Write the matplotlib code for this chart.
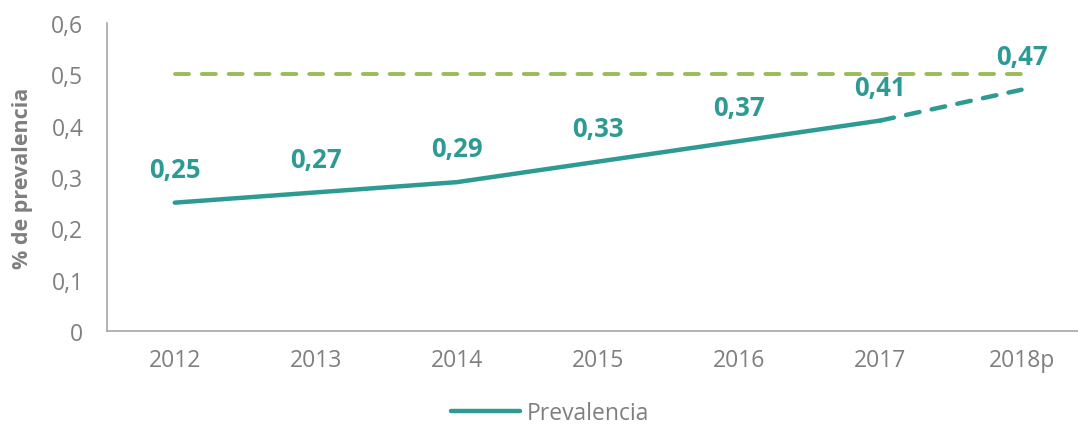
import matplotlib
matplotlib.use('Agg')
import matplotlib.pyplot as plt
from matplotlib.lines import Line2D

plt.rcParams['font.family'] = ['Open Sans', 'DejaVu Sans']

# ── data ──────────────────────────────────────────────────────────────────────
YEARS      = ['2012', '2013', '2014', '2015', '2016', '2017', '2018p']
PREVALENCE = [0.25, 0.27, 0.29, 0.33, 0.37, 0.41, 0.47]
TARGET     = [0.5] * len(YEARS)
Y_TICKS    = [0, 0.1, 0.2, 0.3, 0.4, 0.5, 0.6]

TEAL  = '#2E9A94'
OLIVE = '#9BBB59'
GREY  = '#7F7F7F'

fig = plt.figure(figsize=(10.78, 4.27), dpi=100)
W, H = 1078, 427
ax = fig.add_axes([107 / W, (H - 332) / H, (1078 - 107) / W, (332 - 24) / H])

x = list(range(len(YEARS)))

# target line
ax.plot(x, TARGET, color=OLIVE, lw=2.8, ls=(0, (3.6, 3.3)),
        solid_capstyle='round', dash_capstyle='round')

# observed years solid, projected year dashed
ax.plot(x[:-1], PREVALENCE[:-1], color=TEAL, lw=3.2, solid_capstyle='round')
ax.plot(x[-2:], PREVALENCE[-2:], color=TEAL, lw=3.2, ls=(0, (3.1, 2.8)),
        dash_capstyle='round')

for xi, v in zip(x, PREVALENCE):
    ax.annotate(f'{v:.2f}'.replace('.', ','), (xi, v), xytext=(0, 24),
                textcoords='offset points', ha='center', va='center',
                color=TEAL, fontsize=18.5, fontweight='bold')

ax.set_xlim(-0.48, 6.40)
ax.set_ylim(0, 0.6)
ax.set_xticks(x)
ax.set_xticklabels(YEARS)
ax.set_yticks(Y_TICKS)
ax.set_yticklabels([f'{t:g}'.replace('.', ',') for t in Y_TICKS])
ax.tick_params(length=0, labelsize=16.5, colors=GREY, pad=17)
ax.tick_params(axis='x', pad=12)

for side in ('top', 'right'):
    ax.spines[side].set_visible(False)
for side in ('left', 'bottom'):
    ax.spines[side].set_color('#A6A6A6')
    ax.spines[side].set_linewidth(1.2)

ax.set_ylabel('% de prevalencia', fontsize=15.5, fontweight='bold', color=GREY,
              labelpad=13.5)

handle = Line2D([], [], color=TEAL, lw=3.2, solid_capstyle='round')
fig.legend([handle], ['Prevalencia'], loc='center', bbox_to_anchor=(0.51, 1 - 414 / H),
           frameon=False, fontsize=16.5, labelcolor=GREY, handlelength=3.0,
           handletextpad=0.3)

fig.savefig('out.png', dpi=100)
